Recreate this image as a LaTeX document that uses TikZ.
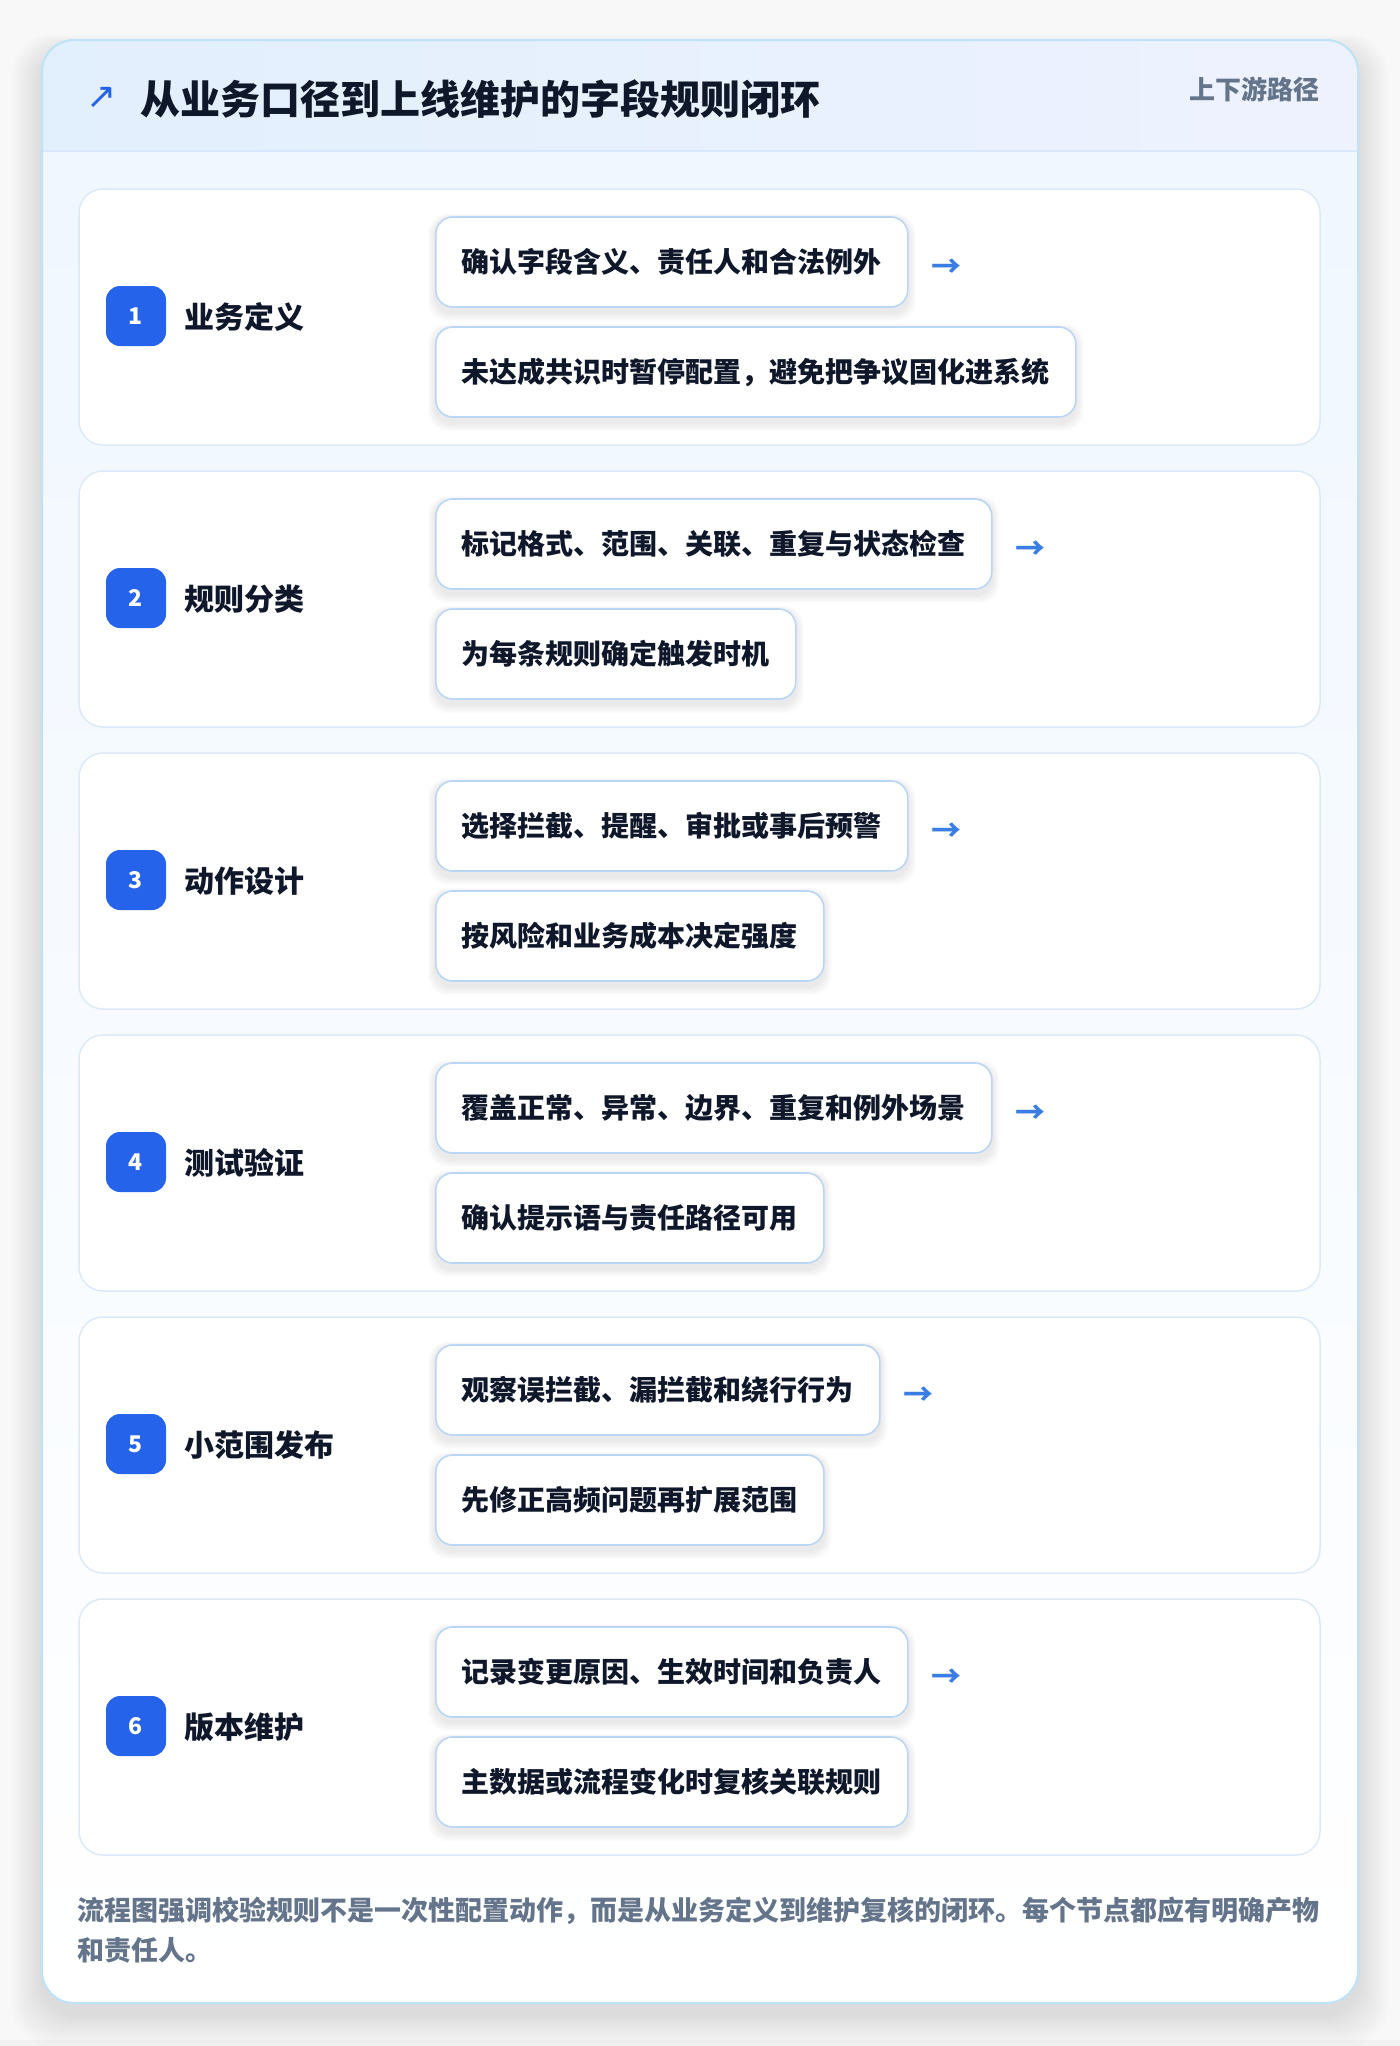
\documentclass[tikz,border=0pt]{standalone}
\usepackage{fontspec}
\setmainfont{Noto Sans CJK SC}
\newfontfamily\symfont{DejaVu Sans}
\definecolor{pagebg}{HTML}{F8F8F9}
\definecolor{cardborder}{HTML}{BEE3F8}
\definecolor{hdrL}{HTML}{E2EFFD}
\definecolor{hdrR}{HTML}{EEF2FE}
\definecolor{bodytop}{HTML}{F0F7FF}
\definecolor{sepline}{HTML}{D8E8FA}
\definecolor{stepborder}{HTML}{DCE9F9}
\definecolor{subborder}{HTML}{BBD5F5}
\definecolor{badgeblue}{HTML}{2563EB}
\definecolor{arrowblue}{HTML}{3B7DE3}
\definecolor{darktext}{HTML}{0F172A}
\definecolor{graytext}{HTML}{64748B}
\pgfdeclarelayer{bottom}
\pgfdeclarelayer{mid}
\pgfsetlayers{bottom,mid,main}
\tikzset{
  stepbox/.style={draw=stepborder, fill=white, line width=1.5pt, rounded corners=24pt},
  badge/.style={fill=badgeblue, rounded corners=14pt, minimum width=60pt, minimum height=60pt, inner sep=0pt,
    text=white, font=\fontsize{23}{26}\selectfont\bfseries},
  steplabel/.style={anchor=west, inner sep=0pt, text=darktext, font=\fontsize{30}{36}\selectfont\bfseries},
  subbox/.style={draw=subborder, fill=white, line width=1.6pt, rounded corners=17pt, anchor=west,
    minimum height=90pt, inner xsep=26pt, inner ysep=0pt, text=darktext,
    font=\fontsize{28}{34}\selectfont\bfseries},
  flowarrow/.style={anchor=west, inner sep=0pt, text=arrowblue, font=\fontsize{30}{34}\selectfont\bfseries},
  softshadow/.style={fill=black, opacity=0.011, rounded corners=19pt},
}
\begin{document}
\begin{tikzpicture}[x=1pt,y=-1pt]
\useasboundingbox (0,0) rectangle (1400,2046);
\begin{pgfonlayer}{bottom}
\fill[pagebg] (0,0) rectangle (1400,2046);
\fill[black!5] (0,2040) rectangle (1400,2046);
% card shadow
\foreach \k [evaluate=\k as \d using 2.2*\k] in {1,...,14} {
  \fill[black, opacity=0.0065, rounded corners=40pt] (42-\d,50-0.5*\d) rectangle (1358+\d,2015+\d);
}
% card body
\begin{scope}
  \clip[rounded corners=32pt] (42,40) rectangle (1358,2003);
  \fill[white] (42,40) rectangle (1358,2003);
  \fill[top color=bodytop, bottom color=white] (42,151) rectangle (1358,2003);
  \fill[left color=hdrL, right color=hdrR] (42,40) rectangle (1358,151);
  \draw[sepline, line width=2pt] (42,151) -- (1358,151);
\end{scope}
\draw[cardborder, line width=2pt, rounded corners=32pt] (42,40) rectangle (1358,2003);
\end{pgfonlayer}
% header
\node[anchor=center, inner sep=0pt, text=badgeblue, font=\symfont\fontsize{36}{40}\selectfont] (icon) at (102,98) {↗};
\node[anchor=west, inner sep=0pt, text=darktext, font=\fontsize{40}{46}\selectfont\bfseries] (title) at (140,99) {从业务口径到上线维护的字段规则闭环};
\node[anchor=east, inner sep=0pt, text=graytext, font=\fontsize{26}{30}\selectfont\bfseries] (subtitle) at (1320,89) {上下游路径};
% steps
\foreach \i/\lab/\ta/\tb in {
  1/业务定义/确认字段含义、责任人和合法例外/未达成共识时暂停配置，避免把争议固化进系统,
  2/规则分类/标记格式、范围、关联、重复与状态检查/为每条规则确定触发时机,
  3/动作设计/选择拦截、提醒、审批或事后预警/按风险和业务成本决定强度,
  4/测试验证/覆盖正常、异常、边界、重复和例外场景/确认提示语与责任路径可用,
  5/小范围发布/观察误拦截、漏拦截和绕行行为/先修正高频问题再扩展范围,
  6/版本维护/记录变更原因、生效时间和负责人/主数据或流程变化时复核关联规则}{
  \pgfmathsetmacro\tp{189+282*(\i-1)}
  \begin{pgfonlayer}{bottom}
    \draw[stepbox] (79,\tp) rectangle (1320,\tp+256);
  \end{pgfonlayer}
  \node[badge] (b\i) at (136,\tp+127) {\i};
  \node[steplabel] (l\i) at (184,\tp+128) {\lab};
  \node[subbox] (a\i) at (435,\tp+73) {\ta};
  \node[subbox] (c\i) at (435,\tp+183) {\tb};
  \begin{pgfonlayer}{mid}
    \foreach \n in {a\i,c\i} {
      \foreach \k in {1,...,7} {
        \fill[softshadow] ([xshift=-\k pt, yshift={-2pt+0.6*\k pt}]\n.north west)
          rectangle ([xshift=\k pt, yshift={-5pt-1.2*\k pt}]\n.south east);
      }
    }
  \end{pgfonlayer}
  \node[flowarrow] (r\i) at ([xshift=23pt,yshift=-6pt]a\i.east) {→};
}
% footer
\node[anchor=west, inner sep=0pt, text=graytext, align=left,
  font=\fontsize{27}{40}\selectfont\bfseries] (note) at (77,1930)
  {流程图强调校验规则不是一次性配置动作，而是从业务定义到维护复核的闭环。每个节点都应有明确产物\\和责任人。};
\end{tikzpicture}
\end{document}
